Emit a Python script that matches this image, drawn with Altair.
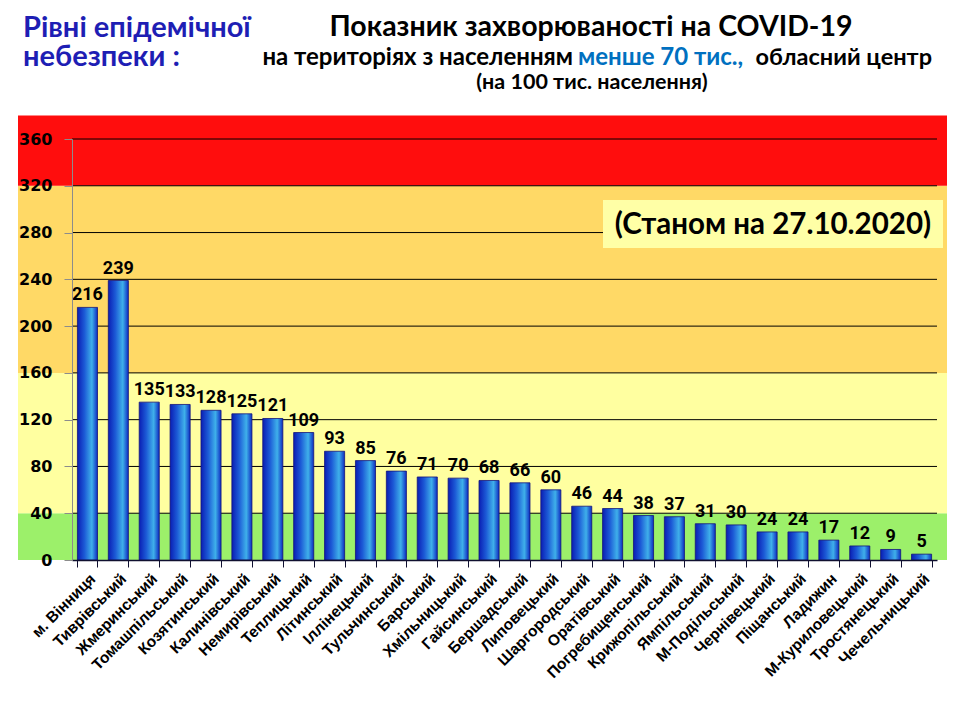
import altair as alt
import pandas as pd

# райони та показник захворюваності на 100 тис. населення
districts = [
    "м. Вінниця", "Тиврівський", "Жмеринський", "Томашпільський", "Козятинський",
    "Калинівський", "Немирівський", "Теплицький", "Літинський", "Іллінецький",
    "Тульчинський", "Барський", "Хмільницький", "Гайсинський", "Бершадський",
    "Липовецький", "Шаргородський", "Оратівський", "Погребищенський", "Крижопільський",
    "Ямпільський", "М-Подільський", "Чернівецький", "Піщанський", "Ладижин",
    "М-Куриловецький", "Тростянецький", "Чечельницький",
]
rates = [216, 239, 135, 133, 128, 125, 121, 109, 93, 85, 76, 71, 70, 68, 66,
         60, 46, 44, 38, 37, 31, 30, 24, 24, 17, 12, 9, 5]

# рівні епідемічної небезпеки (фон)
level_lo = [0, 40, 160, 320]
level_hi = [40, 160, 320, 380]
level_colors = ["#9cf06a", "#ffffa0", "#ffd966", "#ff0d0d"]

y_ticks = [0, 40, 80, 120, 160, 200, 240, 280, 320, 360]

W, H = 865, 421

df = pd.DataFrame({"district": districts, "rate": rates})
levels = pd.DataFrame({"lo": level_lo, "hi": level_hi, "color": level_colors})
grid = pd.DataFrame({"v": y_ticks[1:]})

y_scale = alt.Scale(domain=[0, 360], nice=False)
y_axis = alt.Axis(values=y_ticks, grid=False, zindex=1, title=None,
                  labelFont="DejaVu Sans", labelFontSize=16, labelFontWeight="bold",
                  labelColor="black", labelPadding=12, tickSize=8,
                  tickColor="#8c8c8c", domainColor="#8c8c8c")

bands = alt.Chart(levels).mark_rect().encode(
    x=alt.value(-54),
    x2=alt.value(W + 10),
    y=alt.Y("lo:Q", scale=y_scale, axis=y_axis),
    y2="hi:Q",
    color=alt.Color("color:N", scale=None),
)

gridlines = alt.Chart(grid).mark_rule(color="black", strokeWidth=1).encode(
    x=alt.value(0),
    x2=alt.value(W),
    y=alt.Y("v:Q", scale=y_scale, axis=y_axis),
)

bar_fill = alt.Gradient(
    gradient="linear",
    stops=[
        alt.GradientStop(color="#0a1eb4", offset=0),
        alt.GradientStop(color="#1c5ad6", offset=0.35),
        alt.GradientStop(color="#3fb0ea", offset=0.72),
        alt.GradientStop(color="#0d2cc2", offset=1),
    ],
    x1=0, x2=1, y1=0, y2=0,
)

x_enc = alt.X(
    "district:N", sort=districts, title=None,
    scale=alt.Scale(paddingInner=0.35, paddingOuter=0.175),
    axis=alt.Axis(labelAngle=-45, labelFont="Liberation Sans", labelFontSize=15.5,
                  labelFontWeight="bold", labelColor="black", tickBand="extent",
                  tickSize=7, tickColor="#101030", domainColor="#101030",
                  domainWidth=1.5, labelPadding=4, zindex=1),
)

bars = alt.Chart(df).mark_bar(fill=bar_fill, stroke="#14147a", strokeWidth=0.8).encode(
    x=x_enc,
    y=alt.Y("rate:Q", scale=y_scale, axis=y_axis),
)

values = alt.Chart(df).mark_text(
    baseline="bottom", dy=-3, font="Roboto", fontSize=18,
    fontWeight="bold", color="black",
).encode(
    x=alt.X("district:N", sort=districts),
    y=alt.Y("rate:Q", scale=y_scale, axis=y_axis),
    text="rate:Q",
)


def note(text, x, y, size, color="black", align="center", font="Lato"):
    return alt.Chart(pd.DataFrame({"t": [text]})).mark_text(
        align=align, baseline="middle", font=font, fontSize=size,
        fontWeight="bold", color=color, lineBreak="\n", lineHeight=29,
    ).encode(x=alt.value(x), y=alt.value(y), text="t:N")


date_box = alt.Chart(pd.DataFrame({"a": [0]})).mark_rect(color="#ffffa6").encode(
    x=alt.value(531), x2=alt.value(871), y=alt.value(61), y2=alt.value(109),
)

notes = [
    note("Рівні епідемічної\nнебезпеки :", -49, -111, 29, color="#1e1eb4", align="left"),
    note("Показник захворюваності на COVID-19", 519, -112, 28.5),
    note("на територіях з населенням", 501, -81, 24, align="right"),
    note("менше 70 тис.,", 506, -81, 24, color="#0070c0", align="left"),
    note("обласний центр", 860, -81, 23.5, align="right"),
    note("(на 100  тис. населення)", 520, -56, 21.5),
    note("(Станом на 27.10.2020)", 701, 86, 29.5),
]

chart = alt.layer(bands, gridlines, bars, values, date_box, *notes).properties(
    width=W,
    height=H,
    autosize=alt.AutoSizeParams(type="none"),
    padding={"left": 64, "top": 131, "right": 15, "bottom": 140},
).configure_view(stroke=None)

chart.save("out.html", embed_options={"renderer": "svg", "actions": False})
